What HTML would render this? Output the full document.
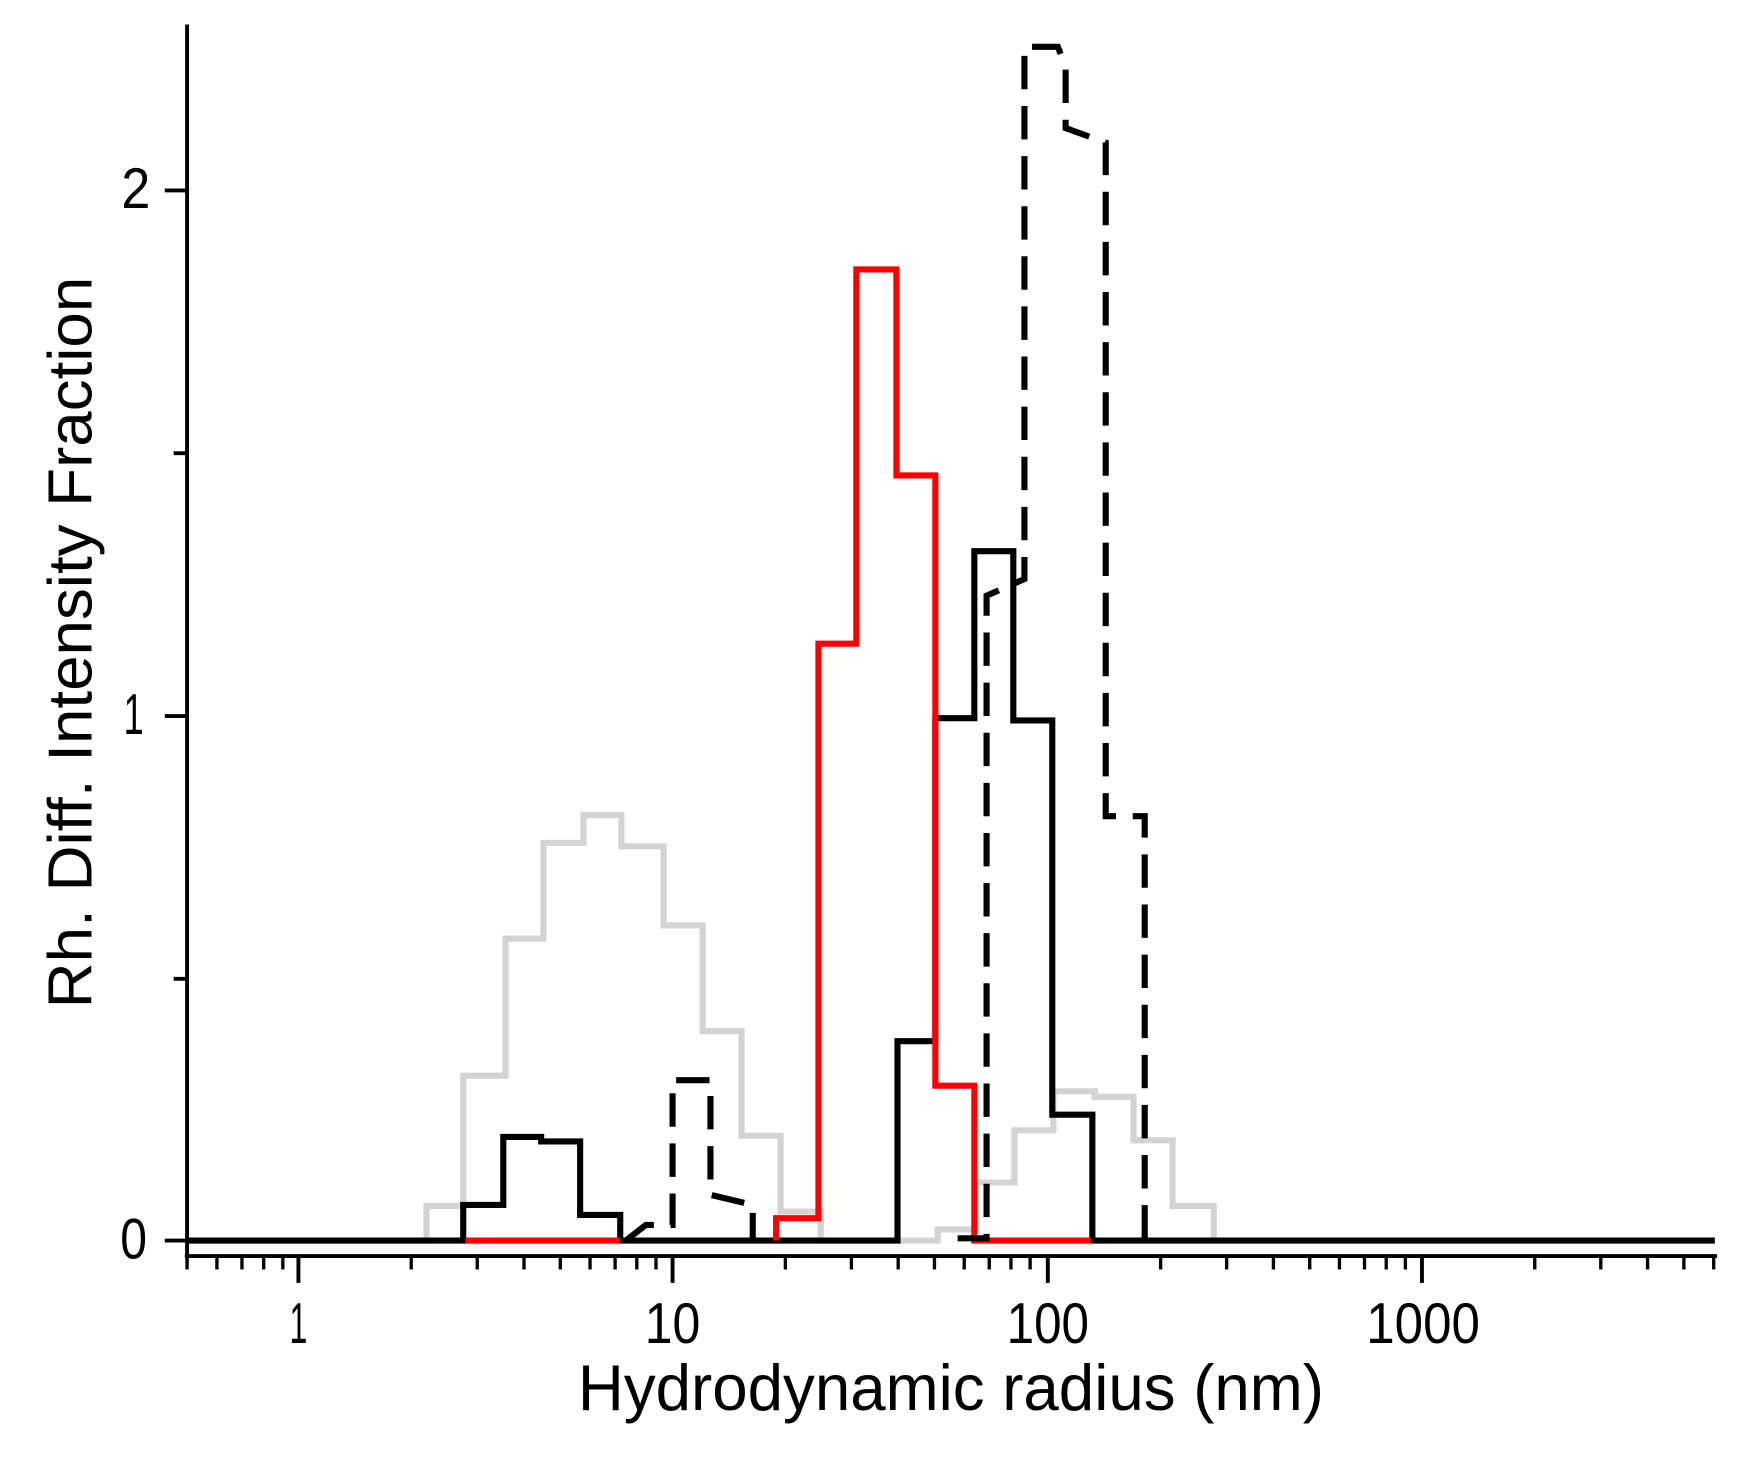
<!DOCTYPE html>
<html><head><style>html,body{margin:0;padding:0;background:#fff}svg{display:block}</style></head><body>
<svg width="1746" height="1462" viewBox="0 0 1568 1312.9" preserveAspectRatio="none" xmlns="http://www.w3.org/2000/svg" font-family="Liberation Sans, sans-serif">
<g fill="none" stroke-linejoin="miter">
<polyline stroke="#d3d3d3" stroke-width="5.5" points="168,1114 383,1114 383,1083 416,1083 416,966 454,966 454,843 488,843 488,757 524,757 524,732 558,732 558,760 596,760 596,831 631,831 631,926 666,926 666,1020 701,1020 701,1088 737,1088 737,1114 808,1114 842,1114 842,1104 876,1104 876,1062 911,1062 911,1015 946,1015 946,980 983,980 983,985 1018,985 1018,1024 1053,1024 1053,1083 1090,1083 1090,1114"/>
<polyline stroke="#000" stroke-width="5.5" points="168,1114 416,1114 416,1082 452,1082 452,1021 486,1021 486,1025 521,1025 521,1091 557,1091 557,1114 806,1114 806,935 840,935 840,645 875,645 875,495 910,495 910,647 945,647 945,1001 981,1001 981,1114 1540,1114"/>
<polyline stroke="#ff0000" stroke-width="5.5" points="418,1114 557,1114"/>
<polyline stroke="#ff0000" stroke-width="5.5" points="697,1114 697,1094 735,1094 735,578 769,578 769,242 805,242 805,427 840,427 840,975 875,975 875,1114 980,1114"/>
<g stroke="#000" stroke-width="5.5" stroke-dasharray="30,15">
<polyline points="562,1114 580,1100 604,1100 604,970 638,970 638,1073 676,1082 676,1114"/>
<polyline points="860,1112 886,1112 886,535 920,520 920,42 950,42 957,60 957,115 993,128 993,733 1028,733 1028,1114"/>
</g>
</g>
<g stroke="#000" stroke-width="3.5" fill="none">
<line x1="168" y1="22" x2="168" y2="1130"/>
<line x1="166" y1="1128" x2="1542" y2="1128"/>
<line x1="148" y1="1114" x2="168" y2="1114"/>
<line x1="148" y1="643" x2="168" y2="643"/>
<line x1="148" y1="171" x2="168" y2="171"/>
<line x1="156" y1="879" x2="168" y2="879"/>
<line x1="156" y1="407" x2="168" y2="407"/>
<path d="M268,1128V1152M604,1128V1152M941,1128V1152M1277,1128V1152"/>
</g>
<g stroke="#000" stroke-width="3">
<line x1="168" y1="1128" x2="168" y2="1140"/><line x1="194.8" y1="1128" x2="194.8" y2="1140"/><line x1="217.3" y1="1128" x2="217.3" y2="1140"/><line x1="236.8" y1="1128" x2="236.8" y2="1140"/><line x1="254" y1="1128" x2="254" y2="1140"/>
<line x1="369.3" y1="1128" x2="369.3" y2="1140"/><line x1="428.6" y1="1128" x2="428.6" y2="1140"/><line x1="470.6" y1="1128" x2="470.6" y2="1140"/><line x1="503.2" y1="1128" x2="503.2" y2="1140"/><line x1="529.9" y1="1128" x2="529.9" y2="1140"/><line x1="552.4" y1="1128" x2="552.4" y2="1140"/><line x1="571.9" y1="1128" x2="571.9" y2="1140"/><line x1="589.1" y1="1128" x2="589.1" y2="1140"/>
<line x1="705.3" y1="1128" x2="705.3" y2="1140"/><line x1="764.6" y1="1128" x2="764.6" y2="1140"/><line x1="806.6" y1="1128" x2="806.6" y2="1140"/><line x1="839.2" y1="1128" x2="839.2" y2="1140"/><line x1="865.9" y1="1128" x2="865.9" y2="1140"/><line x1="888.4" y1="1128" x2="888.4" y2="1140"/><line x1="907.9" y1="1128" x2="907.9" y2="1140"/><line x1="925.1" y1="1128" x2="925.1" y2="1140"/>
<line x1="1042.3" y1="1128" x2="1042.3" y2="1140"/><line x1="1101.6" y1="1128" x2="1101.6" y2="1140"/><line x1="1143.6" y1="1128" x2="1143.6" y2="1140"/><line x1="1176.2" y1="1128" x2="1176.2" y2="1140"/><line x1="1202.9" y1="1128" x2="1202.9" y2="1140"/><line x1="1225.4" y1="1128" x2="1225.4" y2="1140"/><line x1="1244.9" y1="1128" x2="1244.9" y2="1140"/><line x1="1262.1" y1="1128" x2="1262.1" y2="1140"/>
<line x1="1378.3" y1="1128" x2="1378.3" y2="1140"/><line x1="1437.6" y1="1128" x2="1437.6" y2="1140"/><line x1="1479.6" y1="1128" x2="1479.6" y2="1140"/><line x1="1512.2" y1="1128" x2="1512.2" y2="1140"/><line x1="1539" y1="1128" x2="1539" y2="1140"/>
</g>
<g font-size="52" fill="#000" text-anchor="middle">
<text x="268" y="1206" textLength="16" lengthAdjust="spacingAndGlyphs">1</text>
<text x="604" y="1206" textLength="50" lengthAdjust="spacingAndGlyphs">10</text>
<text x="941" y="1206" textLength="74" lengthAdjust="spacingAndGlyphs">100</text>
<text x="1278" y="1206" textLength="102" lengthAdjust="spacingAndGlyphs">1000</text>
<text x="120" y="1130" textLength="24" lengthAdjust="spacingAndGlyphs">0</text>
<text x="120" y="659" textLength="18" lengthAdjust="spacingAndGlyphs">1</text>
<text x="122" y="187" textLength="26" lengthAdjust="spacingAndGlyphs">2</text>
</g>
<text x="854" y="1266" font-size="58" text-anchor="middle" textLength="670" lengthAdjust="spacingAndGlyphs">Hydrodynamic radius (nm)</text>
<text transform="translate(82,577) rotate(-90)" font-size="56" text-anchor="middle" textLength="657" lengthAdjust="spacingAndGlyphs">Rh. Diff. Intensity Fraction</text>
</svg>
</body></html>
